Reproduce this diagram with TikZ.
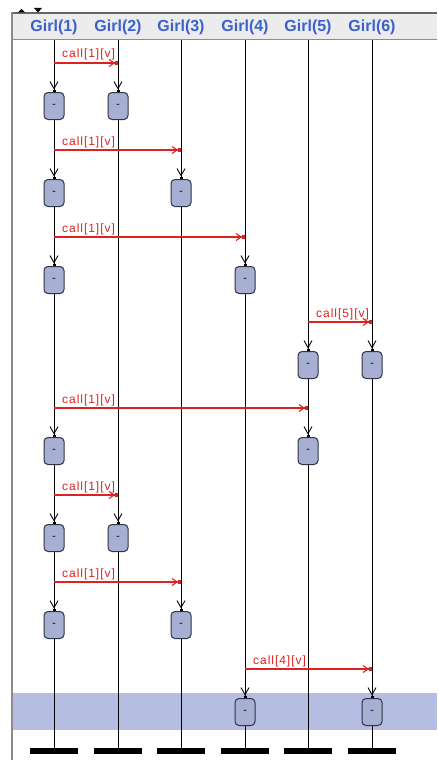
\documentclass[tikz,border=0pt]{standalone}
\usepackage{fontspec}
\setmainfont{Liberation Sans}
\newfontfamily\lblfont[LetterSpace=8]{Liberation Sans}
\usetikzlibrary{arrows.meta,calc}
\definecolor{hdrblue}{HTML}{3A62CC}
\definecolor{msgred}{HTML}{DD2222}
\definecolor{boxfill}{HTML}{A7AFD2}
\definecolor{bandblue}{HTML}{B5BEE2}
\definecolor{hdrgray}{HTML}{ECECEC}
\definecolor{boxline}{HTML}{303442}
\begin{document}
\begin{tikzpicture}[x=1pt,y=-1pt,
  hdr/.style={font=\fontsize{16}{16}\selectfont\bfseries, text=hdrblue, inner sep=0},
  actbox/.style={draw=boxline, fill=boxfill, rounded corners=4pt, minimum width=20pt, minimum height=27pt, inner sep=0, line width=1pt, font=\fontsize{10}{10}\selectfont\bfseries, text=boxline},
  endbar/.style={fill=black, minimum width=48pt, minimum height=6pt, inner sep=0},
  life/.style={line width=0.9pt, black},
  msg/.style={draw=msgred, line width=1.1pt, -{Straight Barb[length=5pt,width=7pt]Square[length=3pt,width=3.5pt]}},
  msglbl/.style={text=msgred, font=\lblfont\fontsize{12}{12}\selectfont, anchor=base west, inner sep=0},
  enter/.style={line width=0.9pt, -{Straight Barb[length=7pt,width=8pt]Square[length=2.5pt,width=3pt]}}
]
\useasboundingbox (0,0) rectangle (437,760);
\fill[white] (0,0) rectangle (437,760);
% highlight band
\fill[bandblue] (13,693) rectangle (437,730);
% header
\fill[hdrgray] (13,13) rectangle (437,40);
\draw[black!60, line width=1.5pt] (13,13) -- (437,13);
\draw[black!45, line width=1pt] (13,40) -- (437,40);
\draw[black!45, line width=2pt] (12,12.25) -- (12,760);
% small scroll triangles
\fill[black] (18,12.5) -- (25,12.5) -- (21.5,9) -- cycle;
\fill[black] (34,8) -- (42,8) -- (38,12.5) -- cycle;
% lifelines
\foreach \i/\x in {1/54,2/118,3/181,4/245,5/308,6/372}{
  \node[hdr] (h\i) at (\x,27) {Girl(\i)};
  \coordinate (t\i) at (\x,40.5);
  \node[endbar] (b\i) at (\x,751) {};
  \draw[life] (t\i) -- (b\i.north);
}
% messages and activations
\foreach \n/\y/\ax/\bx/\lbl in {1/63/54/118/1, 2/150/54/181/1, 3/237/54/245/1, 4/322/308/372/5, 5/408/54/308/1, 6/495/54/118/1, 7/582/54/181/1, 8/669/245/372/4}{
  \coordinate (ms\n) at (\ax,\y);
  \coordinate (me\n) at (\bx,\y);
  \node[msglbl] (ml\n) at (\ax+8,\y-5) {call[\lbl][v]};
  \draw[msg] (ms\n) -- (me\n);
  \node[actbox] (ra\n) at (\ax,\y+43) {-};
  \node[actbox] (rb\n) at (\bx,\y+43) {-};
  \coordinate (ea\n) at ($(ra\n.north)+(0,-12)$);
  \coordinate (eb\n) at ($(rb\n.north)+(0,-12)$);
  \draw[enter] (ea\n) -- (ra\n.north);
  \draw[enter] (eb\n) -- (rb\n.north);
}
\end{tikzpicture}
\end{document}
